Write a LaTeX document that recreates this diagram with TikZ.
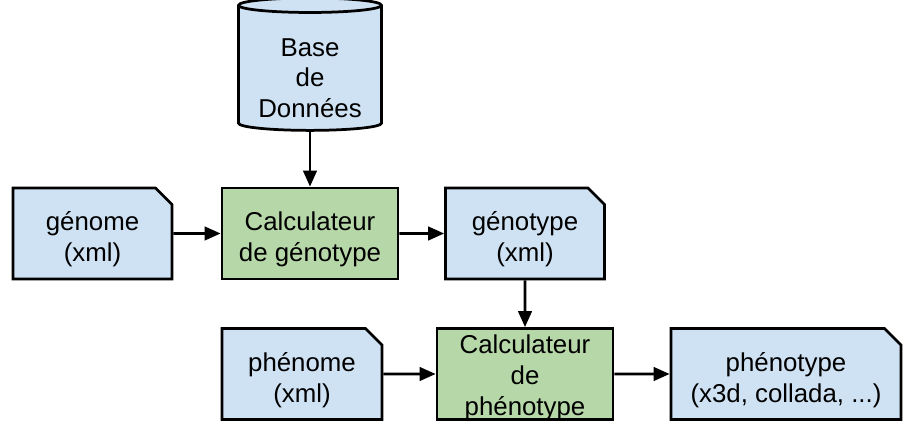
\documentclass[tikz,border=0pt]{standalone}
\usepackage{fontspec}
\setmainfont{Liberation Sans}
\usetikzlibrary{shapes.geometric,shapes.misc,arrows.meta,positioning}

\definecolor{docblue}{HTML}{CFE2F3}
\definecolor{calcgreen}{HTML}{B6D7A8}

\tikzset{
    % fixed text box so that the lines sit like in the drawing tool
    lines/.style={align=center, inner sep=0pt, text height=35.1pt, text depth=3pt},
    doc/.style={chamfered rectangle, chamfered rectangle corners=north east,
        chamfered rectangle xsep=0.16cm, chamfered rectangle ysep=0.17cm,
        draw, line width=0.055cm, fill=docblue, lines, minimum height=1.82cm},
    calc/.style={rectangle, draw, line width=0.055cm, fill=calcgreen,
        lines, minimum height=1.82cm},
    flow/.style={line width=0.055cm, -{Triangle[length=0.32cm, width=0.27cm]}},
}

\begin{document}
\begin{tikzpicture}[font=\fontsize{14.7}{17.6}\selectfont]
    \useasboundingbox (0,0) rectangle (18.08,8.46);
    % base de donnees
    \node (bdd) [cylinder, shape border rotate=90, aspect=0.14, draw,
        line width=0.055cm, fill=docblue, lines, text height=59.2pt,
        minimum width=2.86cm, minimum height=2.6cm] at (6.2, 7.09)
        {Base\\de\\Données};
    % genotype stage
    \node (genome) [doc, minimum width=3.18cm] at (1.85, 3.79) {génome\\(xml)};
    \node (calcgeno) [calc, minimum width=3.52cm] at (6.2, 3.79) {Calculateur\\de génotype};
    \node (genotype) [doc, minimum width=3.18cm] at (10.5, 3.79) {génotype\\(xml)};
    % phenotype stage
    \node (phenome) [doc, minimum width=3.2cm] at (6.04, 0.98) {phénome\\(xml)};
    \node (calcpheno) [calc, minimum width=3.52cm, text height=47.6pt, text depth=0.5pt]
        at (10.5, 0.98) {Calculateur\\de\\phénotype};
    \node (phenotype) [doc, minimum width=4.6cm] at (15.72, 0.98) {phénotype\\(x3d, collada, ...)};

    \draw [flow] (bdd) -- (calcgeno);
    \draw [flow] (genome) -- (calcgeno);
    \draw [flow] (calcgeno) -- (genotype);
    \draw [flow] (genotype) -- (calcpheno);
    \draw [flow] (phenome) -- (calcpheno);
    \draw [flow] (calcpheno) -- (phenotype);
\end{tikzpicture}
\end{document}
